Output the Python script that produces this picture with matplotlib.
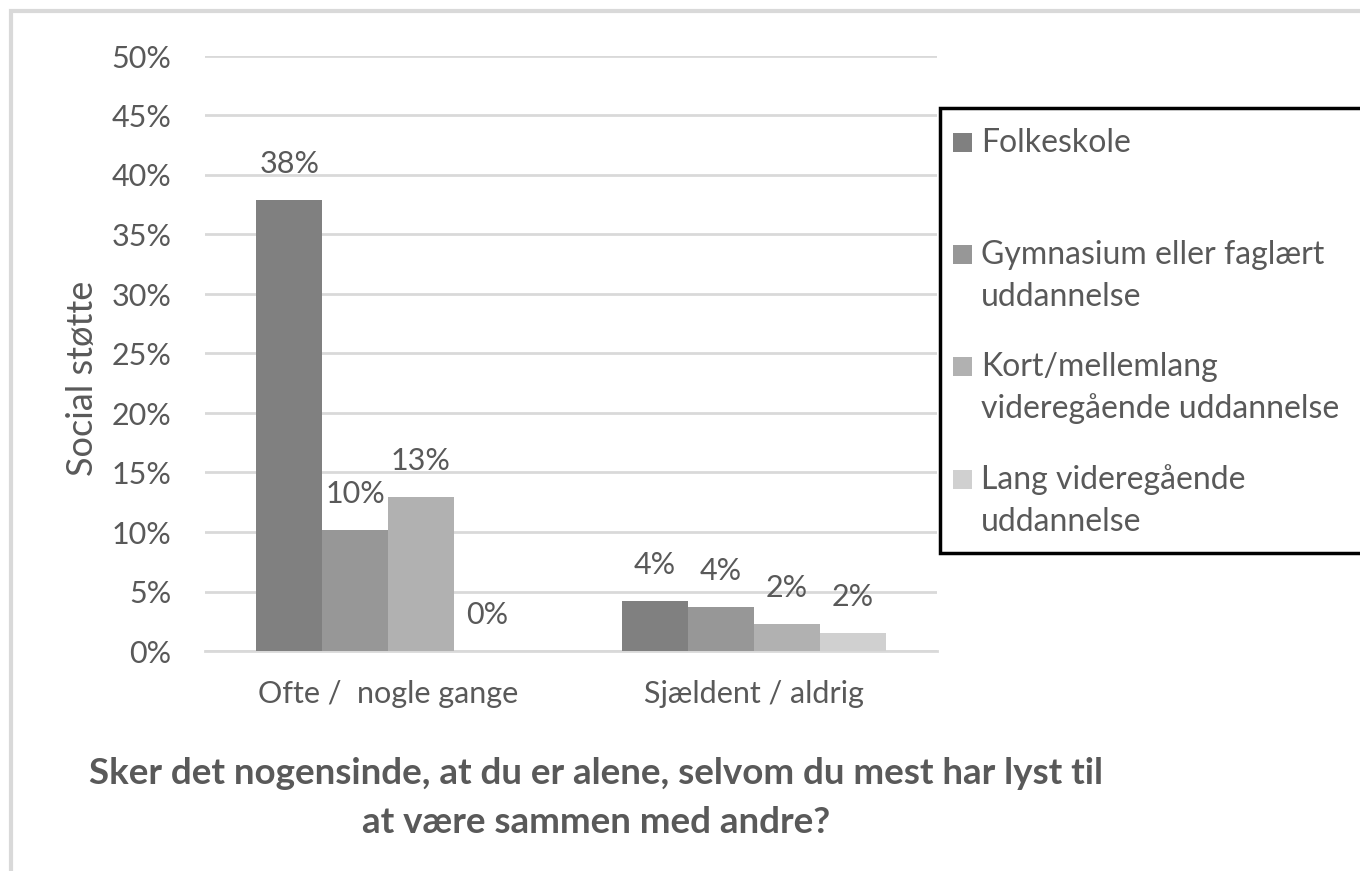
import numpy as np
import matplotlib.pyplot as plt
from matplotlib.patches import Rectangle

plt.rcParams['font.family'] = ['Lato', 'DejaVu Sans']

categories = ['Ofte /  nogle gange', 'Sjældent / aldrig']
series = ['Folkeskole', 'Gymnasium eller faglært\nuddannelse',
          'Kort/mellemlang\nvideregående uddannelse', 'Lang videregående\nuddannelse']
values = [
    [0.379, 0.042],   # Folkeskole
    [0.102, 0.037],   # Gymnasium eller faglært uddannelse
    [0.129, 0.023],   # Kort/mellemlang videregående uddannelse
    [0.000, 0.015],   # Lang videregående uddannelse
]
colors = ['#808080', '#979797', '#b1b1b1', '#d0d0d0']
yticks = np.arange(0, 0.51, 0.05)

text_col = '#595959'
grid_col = '#d9d9d9'
fs = 22

fig = plt.figure(figsize=(13.6, 8.71), dpi=100)
ax = fig.add_axes([205 / 1360, 1 - 651 / 871, 732 / 1360, 595 / 871])

x = np.arange(len(categories))
w = 0.18
bars = []
for i, (name, vals) in enumerate(zip(series, values)):
    b = ax.bar(x + (i - 1.5) * w, vals, w, color=colors[i], label=name, zorder=3)
    bars.append(b)
    for rect, v in zip(b, vals):
        ax.annotate('%d%%' % round(v * 100),
                    (rect.get_x() + rect.get_width() / 2, v),
                    xytext=(0, 26), textcoords='offset points',
                    ha='center', va='center', fontsize=fs, color=text_col)

ax.set_xlim(-0.5, 1.5)
ax.set_ylim(0, 0.5)
ax.set_yticks(yticks)
ax.set_yticklabels(['%d%%' % round(t * 100) for t in yticks])
ax.set_xticks(x)
ax.set_xticklabels(categories)
ax.tick_params(axis='y', length=0, pad=24, labelsize=fs, labelcolor=text_col)
ax.tick_params(axis='x', length=0, pad=21, labelsize=fs, labelcolor=text_col)
ax.grid(axis='y', color=grid_col, linewidth=2, zorder=0)
for s in ['top', 'right', 'left']:
    ax.spines[s].set_visible(False)
ax.spines['bottom'].set_color(grid_col)
ax.spines['bottom'].set_linewidth(2)

fig.text(83 / 1360, 1 - 378 / 871, 'Social støtte', rotation=90,
         ha='center', va='center', fontsize=26, color=text_col)

fig.text(596 / 1360, 1 - 773 / 871, 'Sker det nogensinde, at du er alene, selvom du mest har lyst til',
         ha='center', va='center', fontsize=26.5, fontweight='bold', color=text_col)
fig.text(596 / 1360, 1 - 822 / 871, 'at være sammen med andre?',
         ha='center', va='center', fontsize=26.5, fontweight='bold', color=text_col)

# outer chart border
fig.patches.append(Rectangle((11 / 1360, -0.1), 1.2, 1 - 11 / 871 + 0.1,
                             transform=fig.transFigure, fill=False,
                             edgecolor=grid_col, linewidth=3))

# legend box
fig.patches.append(Rectangle((940 / 1360, 1 - 553 / 871), 0.5, 445 / 871,
                             transform=fig.transFigure, facecolor='white',
                             edgecolor='black', linewidth=2.5, zorder=5))
leg_y = [143, 255, 367, 480]
for b, name, yy in zip(bars, series, leg_y):
    fig.patches.append(Rectangle((953 / 1360, 1 - (yy + 9) / 871), 19 / 1360, 19 / 871,
                                 transform=fig.transFigure,
                                 facecolor=b.patches[0].get_facecolor(),
                                 edgecolor='none', zorder=6))
    for k, line in enumerate(name.split('\n')):
        fig.text(981 / 1360, 1 - (yy + 42 * k) / 871, line, ha='left', va='center',
                 fontsize=23, color=text_col, zorder=7)

fig.savefig('out.png', dpi=100)
